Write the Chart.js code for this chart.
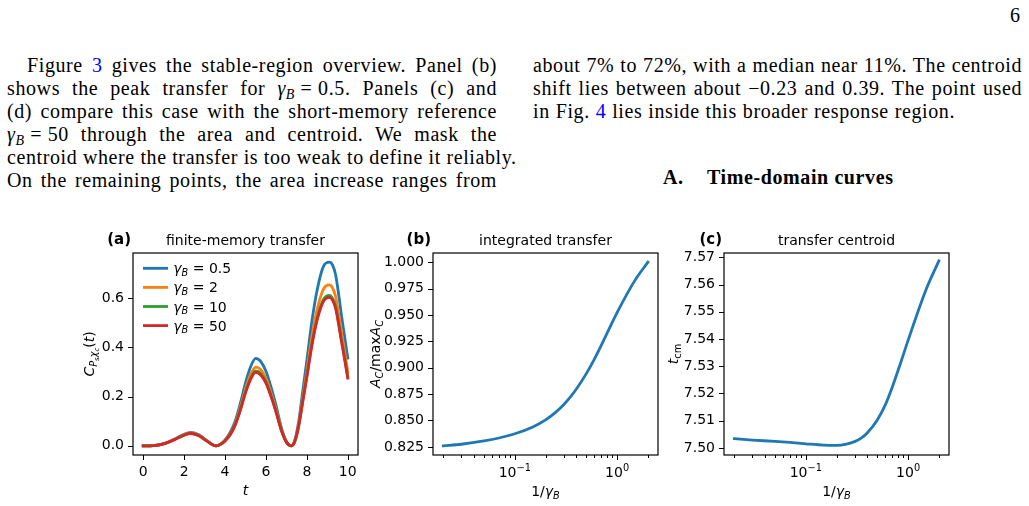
<!DOCTYPE html>
<html>
<head>
<meta charset="utf-8">
<script src="https://cdn.jsdelivr.net/npm/chart.js@4.4.1/dist/chart.umd.min.js"></script>
<style>
html, body { margin: 0; padding: 0; background: #fff; }
body { width: 1029px; height: 506px; position: relative; overflow: hidden; color: #000;
       font-family: "Liberation Serif", serif; }
.ln { position: absolute; font-size: 20px; line-height: 23px; letter-spacing: 0.6px;
      white-space: nowrap; text-align: justify; text-align-last: justify; }
.lk { color: #0000ff; }
sub { font-size: 70%; vertical-align: baseline; position: relative; top: 0.25em; line-height: 0; }
.hd { position: absolute; font-size: 20px; line-height: 23px; font-weight: bold; letter-spacing: 0.6px;
      white-space: nowrap; }
canvas { position: absolute; }
</style>
</head>
<body>

<div class="ln" style="left:1010px; top:4px; text-align:left; text-align-last:auto;">6</div>

<div class="ln" style="left:27px; top:54px; width:470px;">Figure <span class="lk">3</span> gives the stable-region overview. Panel (b)</div>
<div class="ln" style="left:7px; top:77px; width:490px;">shows the peak transfer for <i>γ</i><sub><i>B</i></sub>&#8197;=&#8197;0.5. Panels (c) and</div>
<div class="ln" style="left:7px; top:100px; width:490px;">(d) compare this case with the short-memory reference</div>
<div class="ln" style="left:7px; top:123px; width:490px;"><i>γ</i><sub><i>B</i></sub>&#8197;=&#8197;50 through the area and centroid. We mask the</div>
<div class="ln" style="left:7px; top:146px; width:490px;">centroid where the transfer is too weak to define it reliably.</div>
<div class="ln" style="left:7px; top:169px; width:490px;">On the remaining points, the area increase ranges from</div>

<div class="ln" style="left:533px; top:54px; width:489px;">about 7% to 72%, with a median near 11%. The centroid</div>
<div class="ln" style="left:533px; top:77px; width:489px;">shift lies between about &#8722;0.23 and 0.39. The point used</div>
<div class="ln" style="left:533px; top:100px; width:422px;">in Fig. <span class="lk">4</span> lies inside this broader response region.</div>

<div class="hd" style="left:663px; top:166px;">A.</div>
<div class="hd" style="left:707px; top:166px;">Time-domain curves</div>

<canvas id="pa" width="310" height="281" style="left:60px; top:225px;"></canvas>
<canvas id="pb" width="310" height="281" style="left:360px; top:225px;"></canvas>
<canvas id="pc" width="310" height="281" style="left:651px; top:225px;"></canvas>

<script>
// panel (a): finite-memory transfer C(t), one curve per gamma_B
const tVals    = [0, 0.5, 1, 1.5, 2, 2.3, 2.7, 3.1, 3.56,
                  3.8, 4, 4.25, 4.5, 4.75, 5, 5.25, 5.5, 5.75, 6, 6.25, 6.5, 6.75, 7, 7.24,
                  7.4, 7.6, 7.8, 8, 8.25, 8.5, 8.8, 9.1, 9.25, 9.4, 9.55, 9.7, 9.85, 10];
const cGamma05 = [0, 0.001, 0.009, 0.026, 0.047, 0.055, 0.046, 0.022, 0,
                  0.008, 0.024, 0.054, 0.101, 0.173, 0.256, 0.321, 0.355, 0.342, 0.303, 0.238, 0.161, 0.075, 0.018, 0,
                  0.02, 0.099, 0.223, 0.347, 0.508, 0.632, 0.727, 0.746, 0.735, 0.697, 0.618, 0.525, 0.441, 0.356];
const cGamma2  = [0, 0.001, 0.0085, 0.025, 0.045, 0.052, 0.044, 0.021, 0,
                  0.0075, 0.0215, 0.048, 0.091, 0.156, 0.231, 0.29, 0.32, 0.309, 0.274, 0.215, 0.145, 0.068, 0.016, 0,
                  0.017, 0.087, 0.195, 0.304, 0.445, 0.553, 0.635, 0.654, 0.642, 0.608, 0.538, 0.457, 0.381, 0.30];
const cGamma10 = [0, 0.001, 0.008, 0.024, 0.0435, 0.0505, 0.0425, 0.020, 0,
                  0.007, 0.0204, 0.046, 0.087, 0.148, 0.219, 0.275, 0.304, 0.293, 0.26, 0.204, 0.138, 0.064, 0.015, 0,
                  0.016, 0.081, 0.182, 0.284, 0.415, 0.517, 0.593, 0.611, 0.600, 0.568, 0.502, 0.426, 0.355, 0.28];
const cGamma50 = [0, 0.001, 0.008, 0.024, 0.043, 0.050, 0.042, 0.020, 0,
                  0.007, 0.02, 0.045, 0.085, 0.145, 0.215, 0.27, 0.298, 0.287, 0.255, 0.2, 0.135, 0.063, 0.015, 0,
                  0.016, 0.08, 0.18, 0.28, 0.41, 0.51, 0.585, 0.603, 0.592, 0.56, 0.495, 0.42, 0.35, 0.275];
const gammaLabels = ['0.5', '2', '10', '50'];

// panels (b) and (c): sweep over 1/gamma_B
const invGamma  = [0.02, 0.03, 0.05, 0.07, 0.1, 0.15, 0.2, 0.25, 0.3, 0.35, 0.4, 0.5, 0.6, 0.7, 0.85, 1, 1.5, 2];
const areaRatio = [0.826, 0.8275, 0.8306, 0.8334, 0.8374, 0.8439, 0.8506, 0.8577, 0.8650, 0.8724, 0.8798, 0.8944, 0.9082, 0.9211, 0.9383, 0.9523, 0.9830, 1.0];
const centroid  = [7.5034, 7.5029, 7.5024, 7.5020, 7.5015, 7.5010, 7.5009, 7.5014, 7.5023, 7.5037, 7.5056, 7.5103, 7.5159, 7.5223, 7.5315, 7.5395, 7.5582, 7.5687];

// tick labels
const aTicksX = [0, 2, 4, 6, 8, 10];
const aTicksY = [0, 0.2, 0.4, 0.6];
const bTicksY = [0.825, 0.85, 0.875, 0.9, 0.925, 0.95, 0.975, 1.0];
const cTicksY = [7.50, 7.51, 7.52, 7.53, 7.54, 7.55, 7.56, 7.57];
const logMajor = [0.1, 1];
const logMajorExp = ['\u22121', '0'];
const logMinor = [0.02, 0.03, 0.04, 0.05, 0.06, 0.07, 0.08, 0.09, 0.2, 0.3, 0.4, 0.5, 0.6, 0.7, 0.8, 0.9, 2];

const COLORS = ['#1f77b4', '#ff7f0e', '#2ca02c', '#d62728'];
const FONT = '"DejaVu Sans", sans-serif';
const LW = 2.8;

// rich text: parts of {t, i (italic), b (bold), lvl (subscript depth), sup}
function partFont(p, size) {
    const s = size * Math.pow(0.7, (p.lvl || 0) + (p.sup ? 1 : 0));
    return (p.b ? 'bold ' : '') + (p.i ? 'italic ' : '') + s.toFixed(2) + 'px ' + FONT;
}

function drawRich(ctx, parts, x, y, size, align, rot) {
    ctx.save();
    ctx.translate(x, y);
    if (rot) ctx.rotate(-Math.PI / 2);
    let w = 0;
    parts.forEach(p => { ctx.font = partFont(p, size); w += ctx.measureText(p.t).width; });
    let cx = align === 'left' ? 0 : align === 'right' ? -w : -w / 2;
    ctx.textAlign = 'left';
    ctx.textBaseline = 'alphabetic';
    ctx.fillStyle = '#000';
    parts.forEach(p => {
        ctx.font = partFont(p, size);
        let dy = p.lvl === 1 ? 0.2 * size : p.lvl === 2 ? 0.32 * size : 0;
        if (p.sup) dy = -0.4 * size;
        ctx.fillText(p.t, cx, 0.36 * size + dy);
        cx += ctx.measureText(p.t).width;
    });
    ctx.restore();
}

const invGammaLabel = [{ t: '1/' }, { t: 'γ', i: 1 }, { t: 'B', i: 1, lvl: 1 }];

const panelText = {
    pa: {
        tag: '(a)', title: 'finite-memory transfer',
        xlabel: [{ t: 't', i: 1 }],
        ylabel: [{ t: 'C', i: 1 }, { t: 'P', i: 1, lvl: 1 }, { t: 's', i: 1, lvl: 2 }, { t: 'χ', i: 1, lvl: 1 },
                 { t: 'c', i: 1, lvl: 2 }, { t: '(' }, { t: 't', i: 1 }, { t: ')' }],
        ylabelOff: 44, xlabelOff: 35, legend: true
    },
    pb: {
        tag: '(b)', title: 'integrated transfer',
        xlabel: invGammaLabel,
        ylabel: [{ t: 'A', i: 1 }, { t: 'C', i: 1, lvl: 1 }, { t: '/max' }, { t: 'A', i: 1 }, { t: 'C', i: 1, lvl: 1 }],
        ylabelOff: 58, xlabelOff: 36, logX: true
    },
    pc: {
        tag: '(c)', title: 'transfer centroid',
        xlabel: invGammaLabel,
        ylabel: [{ t: 't', i: 1 }, { t: 'cm', lvl: 1 }],
        ylabelOff: 51, xlabelOff: 36, logX: true
    }
};

const framePlugin = {
    id: 'frame',
    afterDraw(chart) {
        const deco = panelText[chart.canvas.id];
        const ctx = chart.ctx;
        const a = chart.chartArea;
        const xs = chart.scales.x, ys = chart.scales.y;

        ctx.save();
        ctx.strokeStyle = '#000';
        ctx.lineWidth = 1;
        xs.ticks.forEach(t => {
            const px = Math.round(xs.getPixelForValue(t.value)) + 0.5;
            const len = t.major ? 5 : 3;
            ctx.beginPath();
            ctx.moveTo(px, a.bottom);
            ctx.lineTo(px, a.bottom + len);
            ctx.stroke();
        });
        ys.ticks.forEach(t => {
            const py = Math.round(ys.getPixelForValue(t.value)) + 0.5;
            ctx.beginPath();
            ctx.moveTo(a.left, py);
            ctx.lineTo(a.left - 5, py);
            ctx.stroke();
        });
        ctx.lineWidth = 1.2;
        ctx.strokeRect(a.left, a.top, a.right - a.left, a.bottom - a.top);

        if (deco.legend) {
            chart.data.datasets.forEach((ds, i) => {
                const y = a.top + 15.3 + i * 19.1;
                ctx.strokeStyle = ds.borderColor;
                ctx.lineWidth = LW;
                ctx.beginPath();
                ctx.moveTo(a.left + 10, y);
                ctx.lineTo(a.left + 35, y);
                ctx.stroke();
                drawRich(ctx, [{ t: 'γ', i: 1 }, { t: 'B', i: 1, lvl: 1 }, { t: ' = ' + gammaLabels[i] }],
                         a.left + 40.3, y, 14, 'left');
            });
        }
        ctx.restore();

        // decade labels 10^n under the log axis
        if (deco.logX) {
            logMajor.forEach((v, i) => {
                drawRich(ctx, [{ t: '10' }, { t: logMajorExp[i], sup: 1 }],
                         xs.getPixelForValue(v), a.bottom + 17, 14, 'center');
            });
        }

        const mid = (a.left + a.right) / 2;
        drawRich(ctx, [{ t: deco.title }], mid, a.top - 13, 14, 'center');
        drawRich(ctx, [{ t: deco.tag, b: 1 }], a.left - 2, a.top - 14, 15, 'right');
        drawRich(ctx, deco.xlabel, mid, a.bottom + deco.xlabelOff, 14, 'center');
        drawRich(ctx, deco.ylabel, a.left - deco.ylabelOff, (a.top + a.bottom) / 2, 14, 'center', true);
    }
};

function axis(type, min, max, tickList, fmt, isX) {
    return {
        type: type, min: min, max: max, bounds: 'data',
        grid: { display: false, drawTicks: false },
        border: { display: false },
        ticks: {
            color: '#000', font: { family: 'DejaVu Sans', size: 14 },
            padding: 9, autoSkip: false, maxRotation: 0, minRotation: 0,
            callback: fmt
        },
        afterBuildTicks: s => { s.ticks = tickList.map(t => ({ value: t.v, major: t.major })); },
        afterFit: s => { if (isX) s.height = 51; else s.width = 73; }
    };
}

function plain(vals) { return vals.map(v => ({ v: v, major: true })); }

function logTicks() {
    return logMajor.map(v => ({ v: v, major: true }))
        .concat(logMinor.map(v => ({ v: v, major: false })))
        .sort((p, q) => p.v - q.v);
}

function makePanel(id, datasets, xAxis, yAxis) {
    return new Chart(document.getElementById(id), {
        type: 'line',
        data: { datasets: datasets },
        options: {
            responsive: false,
            animation: false,
            events: [],
            layout: { padding: { left: 0, top: 28, right: 12, bottom: 0 } },
            plugins: { legend: { display: false }, tooltip: { enabled: false } },
            elements: {
                point: { radius: 0 },
                line: { borderWidth: LW, borderCapStyle: 'square', borderJoinStyle: 'round',
                        cubicInterpolationMode: 'monotone' }
            },
            scales: { x: xAxis, y: yAxis }
        },
        plugins: [framePlugin]
    });
}

function series(xs, ys) { return xs.map((x, i) => ({ x: x, y: ys[i] })); }

const aSeries = [cGamma05, cGamma2, cGamma10, cGamma50];

makePanel('pa',
    aSeries.map((vals, i) => ({
        label: 'gamma_B = ' + gammaLabels[i],
        data: series(tVals, vals),
        borderColor: COLORS[i],
        order: aSeries.length - 1 - i
    })),
    axis('linear', -0.5, 10.5, plain(aTicksX), v => String(v), true),
    axis('linear', -0.0373, 0.7833, plain(aTicksY), v => v.toFixed(1), false));

makePanel('pb',
    [{ label: 'area', data: series(invGamma, areaRatio), borderColor: COLORS[0] }],
    axis('logarithmic', Math.pow(10, -1.8), Math.pow(10, 0.4), logTicks(), () => '', true),
    axis('linear', 0.8173, 1.0087, plain(bTicksY), v => v.toFixed(3), false));

makePanel('pc',
    [{ label: 'centroid', data: series(invGamma, centroid), borderColor: COLORS[0] }],
    axis('logarithmic', Math.pow(10, -1.8), Math.pow(10, 0.4), logTicks(), () => '', true),
    axis('linear', 7.4974, 7.5716, plain(cTicksY), v => v.toFixed(2), false));
</script>
</body>
</html>
